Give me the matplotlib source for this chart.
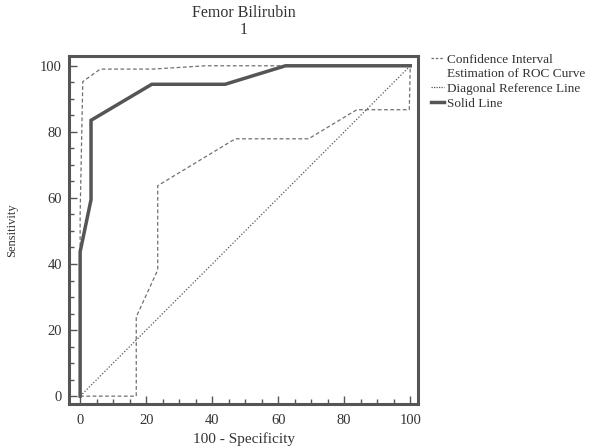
import matplotlib
matplotlib.use("Agg")
import matplotlib.pyplot as plt
from matplotlib.lines import Line2D
from matplotlib.ticker import MultipleLocator

plt.rcParams['font.family'] = ['Liberation Serif', 'DejaVu Serif']

# ROC curve (100 - specificity, sensitivity)
roc_x = [0, 0, 3.3, 3.3, 21.7, 43.9, 62.2, 100]
roc_y = [0, 43.7, 59.5, 83.5, 94.4, 94.4, 100, 100]

# confidence interval bounds
upper_x = [0, 0, 0.8, 6.1, 22, 38, 100]
upper_y = [0, 55, 95.2, 99, 99, 100, 100]
lower_x = [0, 17.0, 17.0, 23.5, 23.5, 47, 69.2, 83.8, 99.7, 100]
lower_y = [0, 0, 24.0, 38.2, 63.7, 77.9, 77.9, 86.7, 86.7, 100]

diag = [0, 100]

dark = '#555555'
grey = '#707070'

fig = plt.figure(figsize=(5.89, 4.47), dpi=100)
ax = fig.add_axes([0.117, 0.096, 0.593, 0.779])

ax.plot(lower_x, lower_y, color=grey, lw=0.9, ls=(0, (3, 2)))
ax.plot(upper_x, upper_y, color=grey, lw=0.9, ls=(0, (3, 2)))
ax.plot(diag, diag, color=dark, lw=0.9, ls=(0, (1, 1.5)))
ax.plot(roc_x, roc_y, color=dark, lw=2.5, solid_joinstyle='miter')

ax.set_xlim(-3.4, 102.4)
ax.set_ylim(-2.4, 103)

ax.xaxis.set_major_locator(MultipleLocator(20))
ax.xaxis.set_minor_locator(MultipleLocator(5))
ax.yaxis.set_major_locator(MultipleLocator(20))
ax.yaxis.set_minor_locator(MultipleLocator(5))
ax.tick_params(which='both', direction='in', color=dark, labelsize=10.5,
               labelcolor='#333333')
ax.tick_params(which='major', length=6, width=1)
ax.tick_params(which='minor', length=3.5, width=1)
ax.tick_params(axis='x', pad=7)
ax.tick_params(axis='y', pad=5)

for s in ['top', 'bottom', 'left', 'right']:
    ax.spines[s].set_color(dark)
    ax.spines[s].set_linewidth(2.2)

ax.set_xlabel('100 - Specificity', fontsize=11, color='#333333', labelpad=4)
ax.set_ylabel('Sensitivity', fontsize=9, color='#333333', labelpad=16)
ax.set_title('Femor Bilirubin\n1', fontsize=11.5, color='#333333',
             linespacing=1.05, pad=16)

# Legend (outside, right)
handles = [
    Line2D([], [], color=grey, lw=0.9, ls=(0, (2, 1.5))),
    Line2D([], [], color='none'),
    Line2D([], [], color=dark, lw=0.9, ls=(0, (1, 1))),
    Line2D([], [], color=dark, lw=2.5),
]
labels = ['Confidence Interval', 'Estimation of ROC Curve',
          'Diagonal Reference Line', 'Solid Line']
leg = fig.legend(handles, labels, loc='upper left',
                 bbox_to_anchor=(0.731, 0.88), frameon=False,
                 fontsize=9.5, handlelength=1.0, handletextpad=0.25,
                 labelspacing=0.18, borderaxespad=0, borderpad=0)
for t in leg.get_texts():
    t.set_color('#333333')

fig.savefig('out.png', dpi=100)
